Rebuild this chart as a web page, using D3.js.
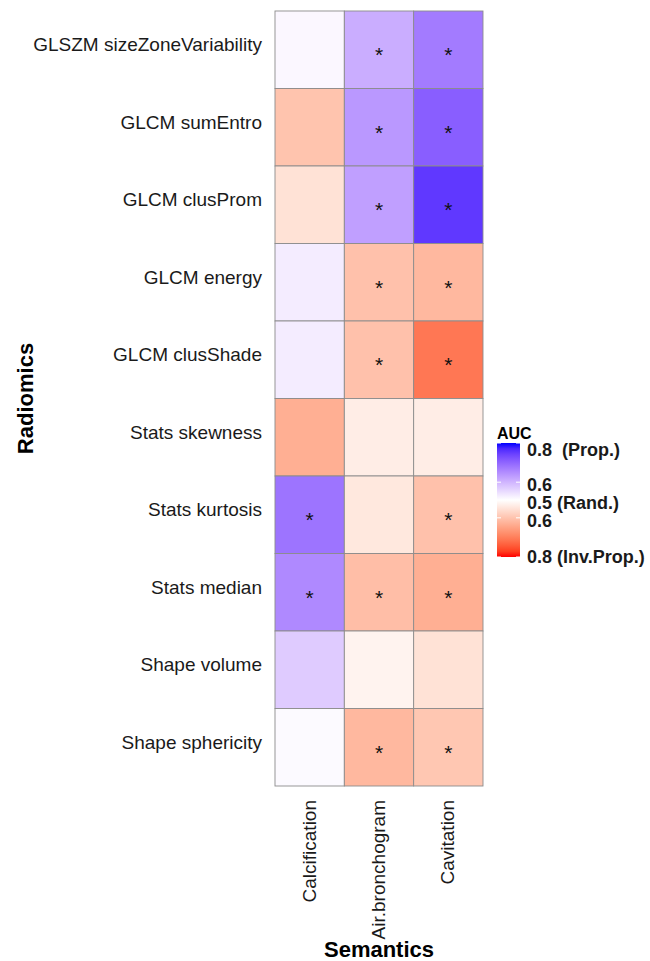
<!doctype html>
<html>
<head>
<meta charset="utf-8">
<title>Radiomics vs Semantics AUC heatmap</title>
<script src="https://cdn.jsdelivr.net/npm/d3@7"></script>
<style>
  body { margin: 0; background: #fff; }
  text { font-family: Arial, "Liberation Sans", sans-serif; }
</style>
</head>
<body>
<svg id="chart" width="650" height="961"></svg>
<script>
// radiomic features (rows, top to bottom) and semantic features (columns)
var features = ["GLSZM sizeZoneVariability", "GLCM sumEntro", "GLCM clusProm", "GLCM energy",
  "GLCM clusShade", "Stats skewness", "Stats kurtosis", "Stats median", "Shape volume", "Shape sphericity"];
var semantics = ["Calcification", "Air.bronchogram", "Cavitation"];

// AUC per cell; sign gives direction (+ proportional, - inversely proportional)
var calcification   = [0.51, -0.60, -0.55, 0.525, 0.525, -0.635, 0.69, 0.66, 0.57, 0.506];
var airBronchogram  = [0.61, 0.64, 0.63, -0.605, -0.605, -0.53, -0.54, -0.61, -0.52, -0.62];
var cavitation      = [0.68, 0.72, 0.77, -0.62, -0.72, -0.53, -0.605, -0.635, -0.55, -0.595];

// significance stars
var sigCalcification  = [0, 0, 0, 0, 0, 0, 1, 1, 0, 0];
var sigAirBronchogram = [1, 1, 1, 1, 1, 0, 0, 1, 0, 1];
var sigCavitation     = [1, 1, 1, 1, 1, 0, 1, 1, 0, 1];

var legendTicks = [0.3, 0.1, 0, -0.1, -0.3];
var legendLabels = ["0.8  (Prop.)", "0.6", "0.5 (Rand.)", "0.6", "0.8 (Inv.Prop.)"];

var aucCols = [calcification, airBronchogram, cavitation];
var sigCols = [sigCalcification, sigAirBronchogram, sigCavitation];

var cells = [];
semantics.forEach(function(s, j) {
  features.forEach(function(f, i) {
    var v = aucCols[j][i];
    cells.push({row: f, col: s, dev: Math.sign(v) * (Math.abs(v) - 0.5), sig: sigCols[j][i]});
  });
});

var svg = d3.select("#chart");
var grid = {left: 275, right: 483, top: 11, bottom: 786};

var x = d3.scaleBand().domain(semantics).range([grid.left, grid.right]);
var y = d3.scaleBand().domain(features).range([grid.top, grid.bottom]);

var lim = 0.32;
var color = d3.scaleLinear()
  .domain([-lim, 0, lim])
  .range(["#ff0000", "#ffffff", "#0000ff"])
  .interpolate(d3.interpolateLab)
  .clamp(true);

// tiles
svg.append("g").selectAll("rect").data(cells).enter().append("rect")
  .attr("x", function(d) { return x(d.col); })
  .attr("y", function(d) { return y(d.row); })
  .attr("width", x.bandwidth())
  .attr("height", y.bandwidth())
  .attr("fill", function(d) { return color(d.dev); })
  .attr("stroke", "#8c8c8c")
  .attr("stroke-width", 0.9);

// stars
svg.append("g").selectAll("text").data(cells.filter(function(d) { return d.sig; })).enter().append("text")
  .attr("x", function(d) { return x(d.col) + x.bandwidth() / 2; })
  .attr("y", function(d) { return y(d.row) + y.bandwidth() / 2; })
  .attr("dy", "0.6em")
  .attr("text-anchor", "middle")
  .style("font-size", "21px")
  .attr("fill", "#111")
  .text("*");

// row labels
svg.append("g").selectAll("text").data(features).enter().append("text")
  .attr("x", grid.left - 13)
  .attr("y", function(d) { return y(d) + y.bandwidth() / 2 - 5; })
  .attr("dy", "0.35em")
  .attr("text-anchor", "end")
  .style("font-size", "19px")
  .attr("fill", "#1a1a1a")
  .text(function(d) { return d; });

// column labels
svg.append("g").selectAll("text").data(semantics).enter().append("text")
  .attr("transform", function(d) {
    return "translate(" + (x(d) + x.bandwidth() / 2 + 6) + "," + (grid.bottom + 14) + ") rotate(-90)";
  })
  .attr("text-anchor", "end")
  .style("font-size", "19px")
  .attr("fill", "#1a1a1a")
  .text(function(d) { return d; });

// axis titles
svg.append("text")
  .attr("transform", "translate(33," + ((grid.top + grid.bottom) / 2) + ") rotate(-90)")
  .attr("text-anchor", "middle")
  .style("font-size", "22px").style("font-weight", "bold")
  .text("Radiomics");

svg.append("text")
  .attr("x", (grid.left + grid.right) / 2)
  .attr("y", 957)
  .attr("text-anchor", "middle")
  .style("font-size", "22px").style("font-weight", "bold")
  .text("Semantics");

// legend
var leg = {x: 497, w: 23, top: 443, bottom: 557};
var ly = d3.scaleLinear().domain([lim, -lim]).range([leg.top, leg.bottom]);

var grad = svg.append("defs").append("linearGradient")
  .attr("id", "aucgrad").attr("x1", 0).attr("x2", 0).attr("y1", 0).attr("y2", 1);
d3.range(0, 21).forEach(function(k) {
  var v = lim - (2 * lim) * k / 20;
  grad.append("stop").attr("offset", (k * 5) + "%").attr("stop-color", color(v));
});

svg.append("text")
  .attr("x", leg.x)
  .attr("y", 439)
  .style("font-size", "16px").style("font-weight", "bold")
  .text("AUC");

svg.append("rect")
  .attr("x", leg.x).attr("y", leg.top)
  .attr("width", leg.w).attr("height", leg.bottom - leg.top)
  .attr("fill", "url(#aucgrad)");

var tickVals = [lim, 0.1, -0.1, -lim];
var tk = svg.append("g");
tickVals.forEach(function(v) {
  tk.append("line").attr("x1", leg.x).attr("x2", leg.x + 4)
    .attr("y1", ly(v)).attr("y2", ly(v)).attr("stroke", "#fff").attr("stroke-width", 1);
  tk.append("line").attr("x1", leg.x + leg.w - 4).attr("x2", leg.x + leg.w)
    .attr("y1", ly(v)).attr("y2", ly(v)).attr("stroke", "#fff").attr("stroke-width", 1);
});

svg.append("g").selectAll("text").data(legendTicks).enter().append("text")
  .attr("x", leg.x + leg.w + 7)
  .attr("y", function(d) { return ly(d) + 3; })
  .attr("dy", "0.35em")
  .style("font-size", "18px").style("font-weight", "bold")
  .style("white-space", "pre")
  .attr("fill", "#1a1a1a")
  .text(function(d, i) { return legendLabels[i]; });
</script>
</body>
</html>
